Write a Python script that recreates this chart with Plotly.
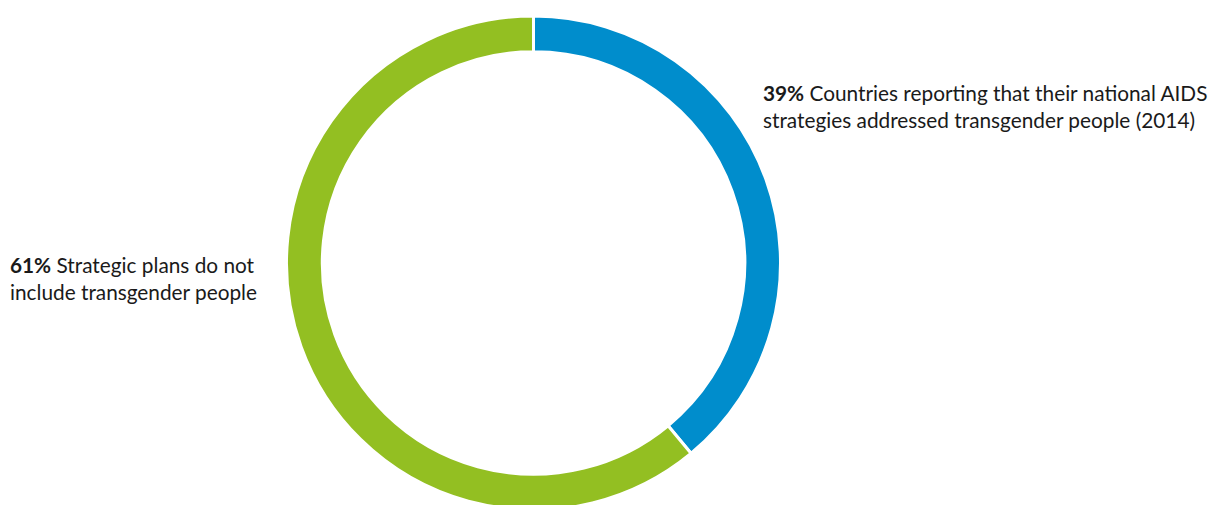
import plotly.graph_objects as go

labels = ["Addressed transgender people", "Do not include transgender people"]
values = [39, 61]
colors = ["#008DCC", "#93BF22"]
label_texts = [
    "<b>39%</b> Countries reporting that their national AIDS<br>strategies addressed transgender people (2014)",
    "<b>61%</b> Strategic plans do not<br>include transgender people",
]

W, H = 1209, 510
cx, cy_top, R = 533.5, 263, 247
cy = H - cy_top

fig = go.Figure(go.Pie(
    labels=labels, values=values, sort=False, direction="clockwise", rotation=0,
    hole=0.855, textinfo="none", hoverinfo="label+percent",
    marker=dict(colors=colors, line=dict(color="white", width=3)),
    domain=dict(x=[(cx - R) / W, (cx + R) / W], y=[(cy - R) / H, (cy + R) / H]),
    showlegend=False,
))

font = dict(family="Lato, Open Sans, sans-serif", size=20.8, color="#1a1a1a")
fig.add_annotation(x=(763 - 2) / W, y=(H - 106) / H, xref="paper", yref="paper",
                   xanchor="left", yanchor="middle", align="left",
                   text=label_texts[0], showarrow=False, font=font)
fig.add_annotation(x=8 / W, y=(H - 278) / H, xref="paper", yref="paper",
                   xanchor="left", yanchor="middle", align="left",
                   text=label_texts[1], showarrow=False, font=font)

fig.update_layout(width=W, height=H, margin=dict(l=0, r=0, t=0, b=0),
                  paper_bgcolor="white", plot_bgcolor="white")
fig.write_html(
    "out.html",
    config={"displayModeBar": False},
    post_script="document.body.style.margin='0';document.body.style.overflow='hidden';",
)
